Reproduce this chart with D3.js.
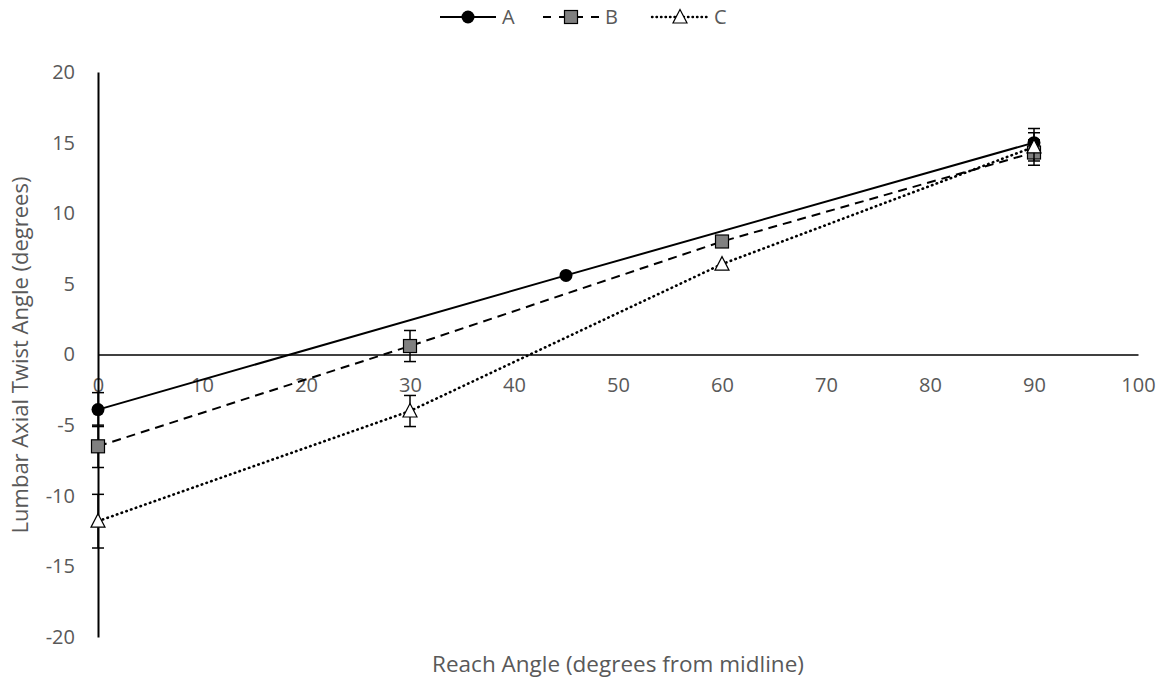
<!DOCTYPE html>
<html><head><meta charset="utf-8">
<script src="https://cdn.jsdelivr.net/npm/d3@7"></script>
<style>body{margin:0;background:#fff}svg{display:block}text{font-family:"Open Sans",sans-serif}</style>
</head><body><svg id="c" width="1164" height="679"></svg>
<script>
const seriesNames = ["A", "B", "C"];
const xA = [0, 45, 90];
const yA = [-3.9, 5.6, 15.0];
const eA = [1.2, 0, 1.0];
const xB = [0, 30, 60, 90];
const yB = [-6.5, 0.6, 8.0, 14.3];
const eB = [1.5, 1.1, 0, 0.9];
const xC = [0, 30, 60, 90];
const yC = [-11.8, -4.0, 6.4, 14.7];
const eC = [1.9, 1.1, 0, 1.0];
const xTicks = [0,10,20,30,40,50,60,70,80,90,100];
const yTicks = [-20,-15,-10,-5,0,5,10,15,20];

const svg = d3.select("#c");
const x = d3.scaleLinear().domain([0,100]).range([98,1138]);
const y = d3.scaleLinear().domain([-20,20]).range([637,72]);
const gray = "#595959";
const fs = 20;
const fmt = d => String(d);

// axes
const xAxis = d3.axisBottom(x).tickValues(xTicks).tickFormat(fmt).tickSize(0).tickPadding(30);
const gx = svg.append("g").attr("transform",`translate(0,${y(0)})`).call(xAxis);
gx.select(".domain").attr("stroke","#000").attr("stroke-width",1.5);
gx.selectAll("text").attr("fill",gray).attr("font-size",fs).attr("font-family","Open Sans").attr("dy","0.35em");

const yAxis = d3.axisLeft(y).tickValues(yTicks).tickFormat(fmt).tickSize(0).tickPadding(23);
const gy = svg.append("g").attr("transform",`translate(${x(0)},0)`).call(yAxis);
gy.select(".domain").attr("stroke","#000").attr("stroke-width",2);
gy.selectAll("text").attr("fill",gray).attr("font-size",fs).attr("font-family","Open Sans");

svg.append("text").attr("x",618).attr("y",672).attr("text-anchor","middle")
  .attr("fill",gray).attr("font-size",22.5).text("Reach Angle (degrees from midline)");
svg.append("text").attr("transform","translate(28,355) rotate(-90)").attr("text-anchor","middle")
  .attr("fill",gray).attr("font-size",22).text("Lumbar Axial Twist Angle (degrees)");

const series = [
  {name:seriesNames[0], xs:xA, ys:yA, es:eA, dash:null, marker:"circle"},
  {name:seriesNames[1], xs:xB, ys:yB, es:eB, dash:"9,6", marker:"square"},
  {name:seriesNames[2], xs:xC, ys:yC, es:eC, dash:"0.5,4.5", marker:"triangle"}
];

const line = d3.line().x(d=>x(d[0])).y(d=>y(d[1]));

function drawMarker(g, type, cx, cy){
  if(type==="circle") g.append("circle").attr("cx",cx).attr("cy",cy).attr("r",6.5).attr("fill","#000");
  else if(type==="square") g.append("rect").attr("x",cx-6.5).attr("y",cy-6.5).attr("width",13).attr("height",13)
      .attr("fill","#808080").attr("stroke","#000").attr("stroke-width",1.2);
  else g.append("path").attr("d",`M${cx},${cy-7.5}L${cx+7},${cy+6}L${cx-7},${cy+6}Z`)
      .attr("fill","#fff").attr("stroke","#000").attr("stroke-width",1.2);
}

series.forEach(s=>{
  const pts = s.xs.map((v,i)=>[v,s.ys[i]]);
  const g = svg.append("g");
  pts.forEach((p,i)=>{
    const e = s.es[i]; if(!e) return;
    const cx = x(p[0]);
    g.append("line").attr("x1",cx).attr("x2",cx).attr("y1",y(p[1]-e)).attr("y2",y(p[1]+e)).attr("stroke","#000").attr("stroke-width",1.5);
    [p[1]-e,p[1]+e].forEach(v=>g.append("line").attr("x1",cx-6).attr("x2",cx+6).attr("y1",y(v)).attr("y2",y(v)).attr("stroke","#000").attr("stroke-width",1.5));
  });
  const path = g.append("path").attr("d",line(pts)).attr("fill","none").attr("stroke","#000").attr("stroke-width",2);
  if(s.dash) path.attr("stroke-dasharray",s.dash);
  if(s.marker==="triangle") path.attr("stroke-linecap","round").attr("stroke-width",2.6);
  pts.forEach(p=>drawMarker(g,s.marker,x(p[0]),y(p[1])));
});

// legend
const legX = [440, 543, 652];
series.forEach((s,i)=>{
  const g = svg.append("g");
  const x0 = legX[i], ly = 17, len = 56;
  const p = g.append("path").attr("d",`M${x0},${ly}H${x0+len}`).attr("stroke","#000").attr("stroke-width",2.2).attr("fill","none");
  if(s.marker==="triangle") p.attr("stroke-linecap","round").attr("stroke-dasharray","0.5,4").attr("stroke-width",2.4);
  if(s.marker==="square") p.attr("stroke-dasharray","8,8,24,8,8");
  drawMarker(g,s.marker,x0+len/2,ly);
  g.append("text").attr("x",x0+len+6).attr("y",ly+7).attr("fill",gray).attr("font-size",fs).text(s.name);
});
</script></body></html>
